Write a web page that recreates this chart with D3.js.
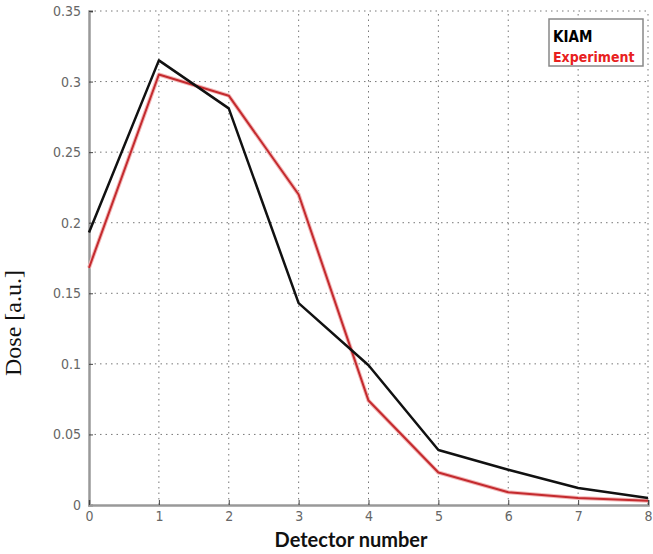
<!DOCTYPE html>
<html>
<head>
<meta charset="utf-8">
<script src="https://cdn.jsdelivr.net/npm/d3@7"></script>
<style>
  html, body { margin: 0; padding: 0; background: #fff; }
  svg { display: block; }
</style>
</head>
<body>
<script>
const detectors = [0, 1, 2, 3, 4, 5, 6, 7, 8];
const kiam = [0.193, 0.315, 0.281, 0.143, 0.099, 0.039, 0.025, 0.012, 0.005];
const experiment = [0.168, 0.305, 0.290, 0.220, 0.074, 0.023, 0.009, 0.005, 0.003];
const xTicks = [0, 1, 2, 3, 4, 5, 6, 7, 8];
const yTicks = [0, 0.05, 0.1, 0.15, 0.2, 0.25, 0.3, 0.35];
const yTickLabels = ["0", "0.05", "0.1", "0.15", "0.2", "0.25", "0.3", "0.35"];
const seriesNames = ["KIAM", "Experiment"];

const W = 653, H = 554;
const svg = d3.select("body").append("svg").attr("width", W).attr("height", H);

const x = d3.scaleLinear().domain([0, 8]).range([89, 648]);
const y = d3.scaleLinear().domain([0, 0.35]).range([505, 11]);

const tickFont = "'Liberation Sans Narrow', 'DejaVu Sans Condensed', 'Arial Narrow', sans-serif";

// grid
const grid = svg.append("g");
grid.selectAll("line.v").data(xTicks.filter(d => d > 0)).enter().append("line")
  .attr("x1", d => x(d)).attr("x2", d => x(d)).attr("y1", y(0)).attr("y2", y(0.35))
  .attr("stroke", "#777").attr("stroke-width", 1).attr("stroke-dasharray", "1.5,4");
grid.selectAll("line.h").data(yTicks.filter(d => d > 0)).enter().append("line")
  .attr("x1", x(0)).attr("x2", x(8)).attr("y1", d => y(d)).attr("y2", d => y(d))
  .attr("stroke", "#777").attr("stroke-width", 1).attr("stroke-dasharray", "1.5,4");

// axes
const yAxis = d3.axisLeft(y).tickValues(yTicks).tickFormat((d, i) => yTickLabels[i]).tickSize(-4).tickPadding(8);
const gy = svg.append("g").attr("transform", `translate(${x(0)},0)`).call(yAxis);
const xAxis = d3.axisBottom(x).tickValues(xTicks).tickFormat(d3.format("d")).tickSize(-5).tickPadding(6);
const gx = svg.append("g").attr("transform", `translate(0,${y(0)})`).call(xAxis);

[gx, gy].forEach(g => {
  g.select(".domain").attr("stroke", "#999").attr("stroke-width", 2.5);
  g.selectAll(".tick line").attr("stroke", "#444").attr("stroke-width", 1);
  g.selectAll(".tick text").attr("fill", "#666").attr("font-size", 14)
    .attr("font-family", tickFont).style("font-stretch", "condensed");
});

// lines
const line = d3.line().x((d, i) => x(detectors[i])).y(d => y(d));
svg.append("path").datum(experiment).attr("d", line)
  .attr("fill", "none").attr("stroke", "#f2b8b8").attr("stroke-width", 4).attr("stroke-linejoin", "round");
svg.append("path").datum(experiment).attr("d", line)
  .attr("fill", "none").attr("stroke", "#c42a2e").attr("stroke-width", 2).attr("stroke-linejoin", "round");
svg.append("path").datum(kiam).attr("d", line)
  .attr("fill", "none").attr("stroke", "#111").attr("stroke-width", 2.5).attr("stroke-linejoin", "round");

// legend
const lg = svg.append("g");
lg.append("rect").attr("x", 549).attr("y", 19).attr("width", 94).attr("height", 47)
  .attr("fill", "#fff").attr("stroke", "#888").attr("stroke-width", 1.5);
lg.append("text").attr("x", 553).attr("y", 42).text(seriesNames[0])
  .attr("font-family", tickFont).style("font-stretch", "condensed").attr("font-weight", "bold")
  .attr("font-size", 15).attr("fill", "#000");
lg.append("text").attr("x", 553).attr("y", 62).text(seriesNames[1])
  .attr("font-family", tickFont).style("font-stretch", "condensed").attr("font-weight", "bold")
  .attr("font-size", 14).attr("fill", "#e82020");

// axis titles
svg.append("text").attr("x", 351).attr("y", 547).attr("text-anchor", "middle")
  .attr("font-family", "Lato, 'Open Sans', sans-serif").attr("font-weight", "bold")
  .attr("font-size", 20).attr("fill", "#111").text("Detector number");
svg.append("text").attr("transform", "translate(21,323) rotate(-90)").attr("text-anchor", "middle")
  .attr("font-family", "'Liberation Serif', 'DejaVu Serif', serif")
  .attr("font-size", 24).attr("fill", "#111").text("Dose [a.u.]");
</script>
</body>
</html>
